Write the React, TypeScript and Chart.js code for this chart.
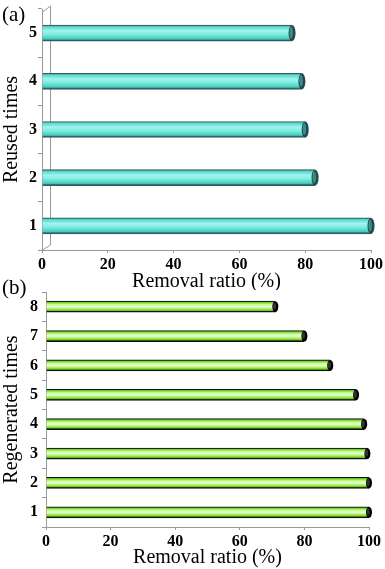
import React, { useEffect, useRef } from 'react';
import { Chart, registerables } from 'chart.js';
Chart.register(...registerables);

const reusedTimes = ['1', '2', '3', '4', '5'];
const reusedRemoval = [100, 83, 80, 79, 76];
const regenTimes = ['1', '2', '3', '4', '5', '6', '7', '8'];
const regenRemoval = [100, 100, 99.5, 98.5, 96, 88, 80, 71];
const xTickValues = [0, 20, 40, 60, 80, 100];

const FONT = "'Liberation Serif', 'Times New Roman', serif";

type Stop = [number, string];
const cyanStops: Stop[] = [
  [0, '#2e6d6a'], [0.1, '#58d6cb'], [0.35, '#9ff4ec'], [0.55, '#84eee3'], [0.85, '#48ccbf'], [1, '#1c4d4c'],
];
const greenStops: Stop[] = [
  [0, '#1a2a0a'], [0.1, '#66cc22'], [0.3, '#bfff88'], [0.5, '#eeffdd'], [0.7, '#a6f05a'], [0.88, '#5cbf14'], [1, '#0d1a05'],
];

const cylFill = (stops: Stop[], thick: number) => (c: any) => {
  const chart = c.chart;
  const ys = chart.scales && chart.scales.y;
  if (!ys || c.dataIndex === undefined) return stops[2][1];
  const y = ys.getPixelForValue(c.dataIndex);
  if (!isFinite(y)) return stops[2][1];
  const g = chart.ctx.createLinearGradient(0, y - thick / 2, 0, y + thick / 2);
  stops.forEach(([o, col]) => g.addColorStop(o, col));
  return g;
};

const capPlugin = (outer: string, inner: string, rx: number) => ({
  id: 'caps',
  afterDatasetsDraw(chart: any) {
    const ctx = chart.ctx;
    const meta = chart.getDatasetMeta(0);
    ctx.save();
    meta.data.forEach((el: any) => {
      const { x, y, height } = el.getProps(['x', 'y', 'height'], true);
      if (!isFinite(x) || !isFinite(y) || !isFinite(height)) return;
      ctx.beginPath();
      ctx.ellipse(x, y, rx, height / 2, 0, 0, Math.PI * 2);
      ctx.fillStyle = outer;
      ctx.fill();
      ctx.beginPath();
      ctx.ellipse(x - 0.8, y - 0.5, rx * 0.5, Math.max(height / 2 - 2, 1), 0, 0, Math.PI * 2);
      ctx.fillStyle = inner;
      ctx.fill();
    });
    ctx.restore();
  },
});

const wallPlugin = (depth: number) => ({
  id: 'wall',
  beforeDatasetsDraw(chart: any) {
    const { ctx, chartArea } = chart;
    const { left, top, bottom } = chartArea;
    ctx.save();
    ctx.strokeStyle = '#9a9a9a';
    ctx.lineWidth = 1;
    ctx.beginPath();
    ctx.moveTo(left + 0.5, top + 3);
    ctx.lineTo(left + depth + 0.5, top - 3);
    ctx.lineTo(left + depth + 0.5, bottom - 5);
    ctx.lineTo(left + 0.5, bottom);
    ctx.stroke();
    ctx.restore();
  },
});

function makeOptions(yTitle: string, pad: any, yWidth: number, xHeight: number, yTickPad: number, xTitleShift: number): any {
  return {
    indexAxis: 'y',
    animation: false,
    responsive: false,
    layout: { padding: pad },
    plugins: { legend: { display: false }, tooltip: { enabled: false } },
    scales: {
      x: {
        type: 'linear',
        min: 0,
        max: 100,
        afterBuildTicks: (s: any) => { s.ticks = xTickValues.map((v) => ({ value: v })); },
        ticks: { font: { family: FONT, size: 16, weight: 'bold' }, color: '#000', padding: 2, maxRotation: 0 },
        grid: { drawOnChartArea: false, drawTicks: true, tickLength: 3, color: '#9a9a9a' },
        border: { color: '#9a9a9a' },
        title: { display: true, text: 'Removal ratio (%)', font: { family: FONT, size: 20 }, color: '#000', padding: { top: 0, bottom: -xTitleShift } },
        afterFit: (s: any) => { s.height = xHeight; },
      },
      y: {
        reverse: true,
        ticks: { font: { family: FONT, size: 16, weight: 'bold' }, color: '#000', padding: yTickPad },
        grid: { drawOnChartArea: false, drawTicks: true, tickLength: 4, offset: true, color: '#9a9a9a' },
        border: { color: '#9a9a9a' },
        title: { display: true, text: yTitle, font: { family: FONT, size: 20 }, color: '#000', padding: 0 },
        afterFit: (s: any) => { s.width = yWidth; s.paddingTop = 0; s.paddingBottom = 0; },
      },
    },
  };
}

export default function App() {
  const refA = useRef<HTMLCanvasElement>(null);
  const refB = useRef<HTMLCanvasElement>(null);

  useEffect(() => {
    const a = new Chart(refA.current!, {
      type: 'bar',
      data: {
        labels: reusedTimes,
        datasets: [{
          data: reusedRemoval,
          backgroundColor: cylFill(cyanStops, 16),
          borderColor: '#2b5f5d',
          borderWidth: { top: 1, bottom: 1.5, right: 0, left: 0 },
          borderSkipped: 'start',
          barThickness: 16,
        }],
      },
      options: makeOptions('Reused times', { top: 9, right: 12, left: 0, bottom: 0 }, 42, 40, 1, 4),
      plugins: [wallPlugin(8), capPlugin('#1d4b4b', '#3f8a88', 3.5)],
    } as any);
    const b = new Chart(refB.current!, {
      type: 'bar',
      data: {
        labels: regenTimes,
        datasets: [{
          data: regenRemoval,
          backgroundColor: cylFill(greenStops, 11),
          borderColor: '#111',
          borderWidth: { top: 1, bottom: 1.5, right: 0, left: 0 },
          borderSkipped: 'start',
          barThickness: 11,
        }],
      },
      options: makeOptions('Regenerated times', { top: 2, right: 16, left: 0, bottom: 0 }, 46, 42, 4, 1),
      plugins: [capPlugin('#000', '#333', 3)],
    } as any);
    return () => { a.destroy(); b.destroy(); };
  }, []);

  return (
    <div style={{ position: 'fixed', left: 0, top: 0, width: 385, height: 569, background: '#fff', overflow: 'hidden' }}>
      <canvas ref={refA} width={385} height={290} style={{ position: 'absolute', left: 0, top: 0 }} />
      <canvas ref={refB} width={385} height={279} style={{ position: 'absolute', left: 0, top: 290 }} />
      <div style={{ position: 'absolute', left: 2, top: 4, fontFamily: FONT, fontSize: 21, lineHeight: '21px' }}>(a)</div>
      <div style={{ position: 'absolute', left: 2, top: 277, fontFamily: FONT, fontSize: 21, lineHeight: '21px' }}>(b)</div>
    </div>
  );
}
